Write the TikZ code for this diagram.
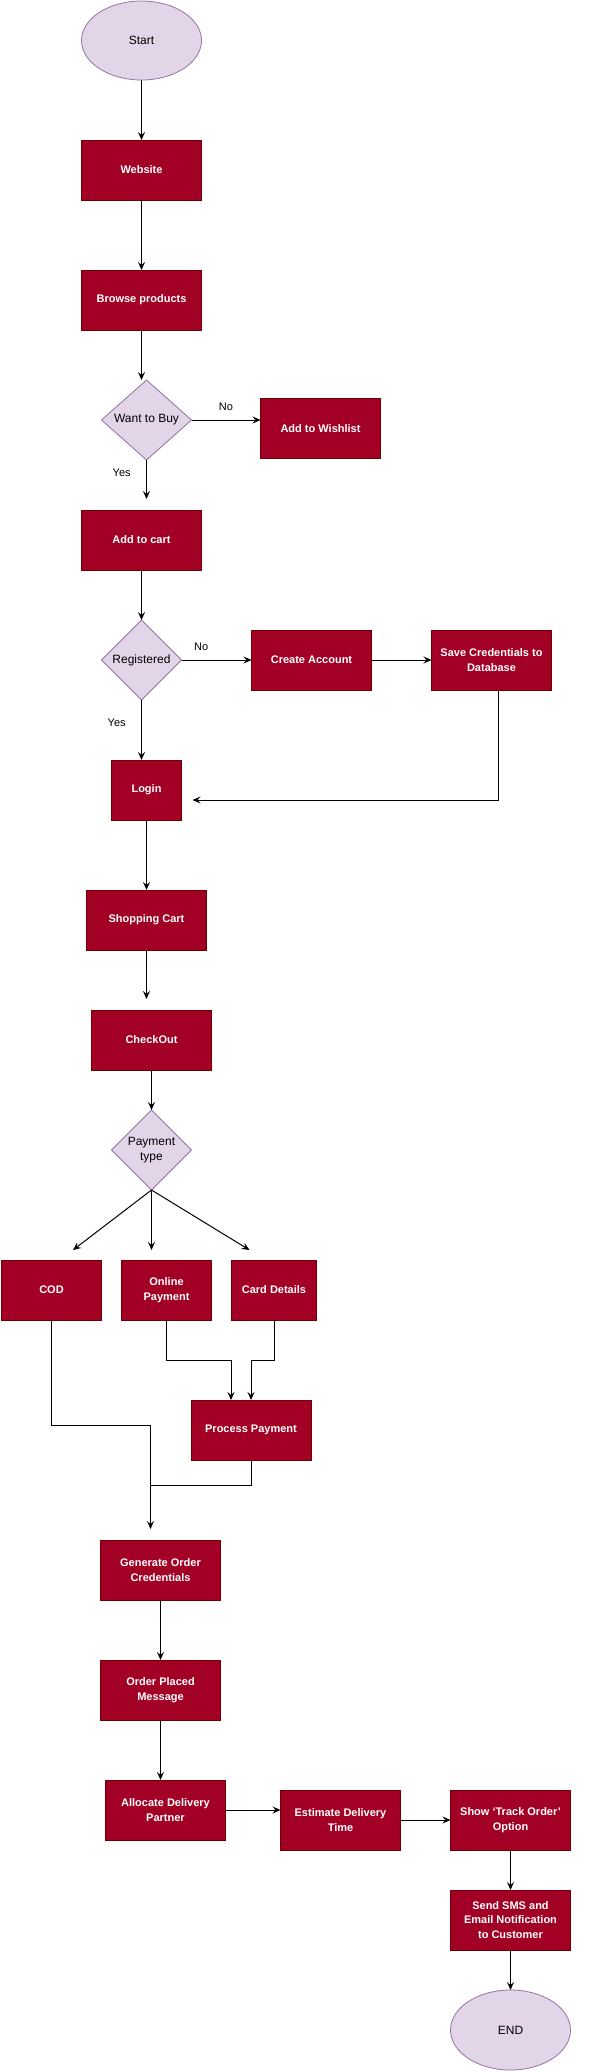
\documentclass[tikz,border=0pt]{standalone}
\usepackage{fontspec}
\setmainfont{Liberation Sans}
\usetikzlibrary{arrows.meta,positioning,shapes.geometric}
\definecolor{procfill}{HTML}{A20025}
\definecolor{procline}{HTML}{6F0000}
\definecolor{termfill}{HTML}{E1D5E7}
\definecolor{termline}{HTML}{9673A6}

\begin{document}
\begin{tikzpicture}[x=1pt,y=1pt,->,>={Stealth[length=8pt,width=7pt,inset=3pt]},
  line width=1pt,node distance=60pt,
  proc/.style={rectangle,draw=procline,fill=procfill,text=white,line width=0.8pt,
    minimum width=120pt,minimum height=60pt,align=center,inner sep=2pt,outer sep=0pt,
    font=\fontsize{11}{14.5}\selectfont\bfseries},
  term/.style={ellipse,draw=termline,fill=termfill,line width=0.8pt,outer sep=0pt,
    minimum width=120pt,minimum height=79pt,font=\fontsize{12}{15}\selectfont},
  choice/.style={diamond,draw=termline,fill=termfill,line width=0.8pt,
    minimum width=80pt,minimum height=80pt,inner sep=0pt,outer sep=0pt,align=center,
    font=\fontsize{12}{15}\selectfont},
  lbl/.style={font=\fontsize{11}{13}\selectfont}]

  \useasboundingbox (0,0) rectangle (609,-2071);

  \node[term] (start) at (141.5,-40.5) {Start};
  \node[proc] (website) [below=60pt of start] {Website};
  \node[proc] (browse) [below=70pt of website] {Browse products};
  \node[choice,minimum width=90pt] (wantbuy) [below=50pt of browse,xshift=5pt] {Want to Buy};
  \node[proc] (wishlist) [right=69pt of wantbuy,yshift=-8.5pt] {Add to Wishlist};
  \node[proc] (addcart) [below=50pt of wantbuy,xshift=-5pt] {Add to cart};
  \node[choice] (registered) [below=50pt of addcart] {Registered};
  \node[proc] (create) [right=70pt of registered] {Create Account};
  \node[proc] (savecred) [right=60pt of create] {Save Credentials to\\Database};
  \node[proc,minimum width=70pt] (login) [below=60pt of registered,xshift=5pt] {Login};
  \node[proc] (shopcart) [below=70pt of login] {Shopping Cart};
  \node[proc] (checkout) [below=60pt of shopcart,xshift=5pt] {CheckOut};
  \node[choice] (paytype) [below=40pt of checkout] {Payment\\type};
  \node[proc,minimum width=90pt] (online) [below=70pt of paytype,xshift=15pt] {Online\\Payment};
  \node[proc,minimum width=100pt] (cod) [left=20pt of online] {COD};
  \node[proc,minimum width=85pt] (card) [right=20pt of online] {Card Details};
  \node[proc] (process) [below=80pt of card,xshift=-23pt] {Process Payment};
  \node[proc] (genorder) [below=80pt of process,xshift=-90.5pt] {Generate Order\\Credentials};
  \node[proc] (placed) [below=60pt of genorder] {Order Placed\\Message};
  \node[proc] (allocate) [below=60pt of placed,xshift=5pt] {Allocate Delivery\\Partner};
  \node[proc] (estimate) [right=55pt of allocate,yshift=-10pt] {Estimate Delivery\\Time};
  \node[proc] (track) [right=50pt of estimate] {Show ‘Track Order’\\Option};
  \node[proc] (notify) [below=40pt of track] {Send SMS and\\Email Notification\\to Customer};
  \node[term,minimum height=80pt] (finish) [below=40pt of notify] {END};

  \path
  (start) edge (website)
  (website) edge (browse)
  (browse.south) edge (browse.south |- wantbuy.north)
  (wantbuy.east) edge node[lbl,above=6pt] {No} (wantbuy.east -| wishlist.west)
  (wantbuy.south) edge[shorten >=11pt] node[lbl,pos=0.26,left=12pt] {Yes} (wantbuy.south |- addcart.north)
  (addcart) edge (registered)
  (registered.east) edge node[lbl,pos=0.28,above=6pt] {No} (create.west)
  (create) edge (savecred)
  (registered.south) edge node[lbl,pos=0.38,left=12pt] {Yes} (registered.south |- login.north)
  (login) edge (shopcart)
  (shopcart.south) edge[shorten >=11pt] (shopcart.south |- checkout.north)
  (checkout) edge (paytype)
  (paytype.south) edge ([xshift=21.5pt,yshift=10pt]cod.north)
  (paytype.south) edge[shorten >=10pt] (paytype.south |- online.north)
  (paytype.south) edge ([xshift=-24.5pt,yshift=10pt]card.north)
  (genorder) edge (placed)
  (placed.south) edge (placed.south |- allocate.north)
  (allocate.east) edge (allocate.east -| estimate.west)
  (estimate) edge (track)
  (track) edge (notify)
  (notify) edge (finish);

  \draw[shorten >=11pt] ([xshift=7pt]savecred.south) |- ([yshift=-10pt]login.east);
  \draw (online.south) -- ([yshift=-40pt]online.south) -| ([xshift=-20pt]process.north);
  \draw (card.south) -- ([yshift=-40pt]card.south) -| (process.north);
  \draw[shorten >=11pt] (cod.south) -- ([yshift=-105pt]cod.south) -| ([xshift=-10pt]genorder.north);
  \draw[-] (process.south) -- ([yshift=-25pt]process.south) -| ([xshift=-10pt,yshift=30pt]genorder.north);
\end{tikzpicture}
\end{document}
